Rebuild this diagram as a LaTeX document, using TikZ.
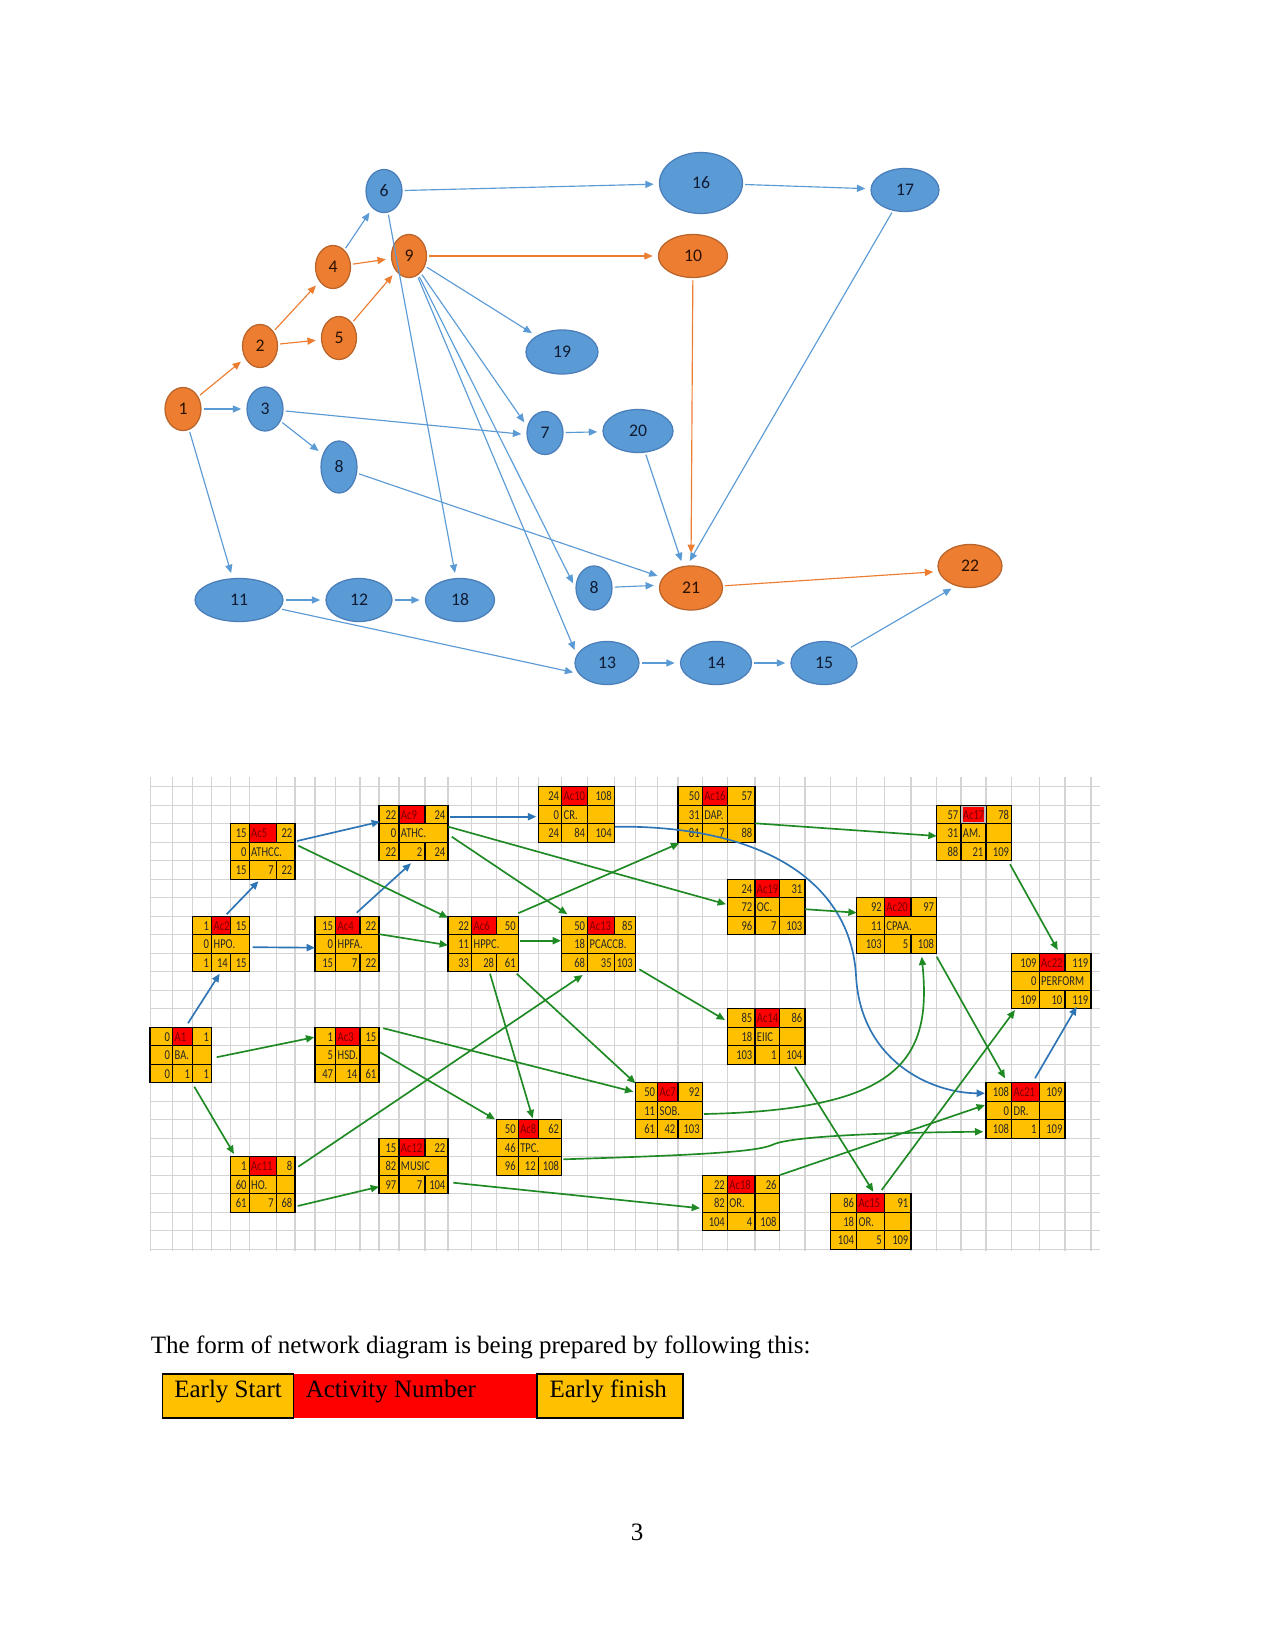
\documentclass[tikz,border=0pt]{standalone}
\usepackage{fontspec}
\setmainfont{Liberation Serif}
\newfontfamily\calib{Carlito}
\newfontfamily\boxfont[FakeStretch=0.78]{Carlito}
\usetikzlibrary{arrows.meta,calc,shapes.geometric}
\definecolor{nblue}{HTML}{5B9BD5}
\definecolor{nbluedk}{HTML}{4A7EBB}
\definecolor{norange}{HTML}{ED7D31}
\definecolor{norangedk}{HTML}{B8642A}
\definecolor{nvtext}{HTML}{0F1B33}
\definecolor{notext}{HTML}{2B1200}
\definecolor{cgold}{HTML}{FFC000}
\definecolor{cred}{HTML}{FF0000}
\definecolor{cdred}{HTML}{780000}
\definecolor{lgreen}{HTML}{1F8A24}
\definecolor{lblue}{HTML}{2E75B6}
\definecolor{gridc}{HTML}{D4D4D4}
\tikzset{
  ev/.style={ellipse, draw, line width=0.6pt, inner sep=0pt, font=\calib\fontsize{8.5}{10}\selectfont},
  evb/.style={ev, fill=nblue, draw=nbluedk, text=nvtext},
  evo/.style={ev, fill=norange, draw=norangedk, text=notext},
  esz/.style 2 args={minimum width=#1*0.48pt, minimum height=#2*0.48pt},
  eb/.style={draw=nblue, line width=0.55pt, -{Triangle[length=4pt,width=3.4pt]}, shorten <=1pt, shorten >=2.5pt},
  eo/.style={eb, draw=norange},
  boxline/.style={draw=black, line width=0.6pt},
  bnum/.style={inner sep=0.6pt, font=\boxfont\fontsize{6.5}{7}\selectfont, text height=4.4pt, text depth=0pt, text=black!85},
  bac/.style={bnum, text=cdred},
  la/.style={line width=0.8pt, -{Triangle[length=4pt,width=3.4pt]}},
  lg/.style={la, draw=lgreen},
  lb/.style={la, draw=lblue},
  gridl/.style={draw=gridc, line width=0.5pt},
  pagetext/.style={inner sep=0pt, font=\fontsize{12}{14}\selectfont}
}
\def\gx{{150,172.7,192.7,211.7,230.5,249.2,276.5,295,315,335.7,360,379,399,425,448,471.7,496.7,518.3,538.3,561.7,587.7,614.3,635.5,657.7,678,702.3,727.5,755,779.2,805,830.7,856.7,884.5,911,936.7,961,986,1011.7,1039.2,1065,1091}}
\newcommand\actrest[4]{%
  \node[bnum,anchor=east] at ({\xb-1},{\ya+46.25}) {#1};
  \node[bnum,anchor=east] at ({\xc-1},{\ya+46.25}) {#2};
  \node[bnum,anchor=east] at ({\xd-1},{\ya+46.25}) {#3};
  \ifnum#4=1 \draw[boxline] (\xc,\yb) -- (\xc,\yc);\fi
}
\newcommand\actbox[9]{%
  \pgfmathtruncatemacro\ia{#2}%
  \pgfmathtruncatemacro\ib{#2+1}%
  \pgfmathtruncatemacro\ic{#2+2}%
  \pgfmathtruncatemacro\id{#2+3}%
  \pgfmathsetmacro\xa{\gx[\ia]}%
  \pgfmathsetmacro\xb{\gx[\ib]}%
  \pgfmathsetmacro\xc{\gx[\ic]}%
  \pgfmathsetmacro\xd{\gx[\id]}%
  \pgfmathsetmacro\ya{786.7+18.5*#3}%
  \pgfmathsetmacro\yb{\ya+18.5}%
  \pgfmathsetmacro\yc{\ya+37}%
  \pgfmathsetmacro\yd{\ya+55.5}%
  \fill[cgold] (\xa,\ya) rectangle (\xd,\yd);
  \fill[cred] (\xb,\ya) rectangle (\xc,\yb);
  \draw[boxline] (\xa,\yb) -- (\xd,\yb) (\xa,\yc) -- (\xd,\yc) (\xb,\ya) -- (\xb,\yd) (\xc,\ya) -- (\xc,\yb) (\xc,\yc) -- (\xc,\yd);
  \draw[boxline] (\xa,\ya) rectangle (\xd,\yd);
  \node[bnum,anchor=east] at ({\xb-1},{\ya+9.25}) {#4};
  \node[bac,anchor=west] at ({\xb+0.3},{\ya+9.25}) {#5};
  \node[bnum,anchor=east] at ({\xd-1},{\ya+9.25}) {#6};
  \node[bnum,anchor=east] at ({\xb-1},{\ya+27.75}) {#7};
  \node[bnum,anchor=west] at ({\xb+0.3},{\ya+27.75}) {#8};
  \actrest#9
  \pgfmathsetmacro\bw{(\xd-\xa)*0.48}%
  \node[inner sep=0pt,outer sep=0pt,minimum width=\bw pt,minimum height=26.64pt,anchor=north west] (#1) at (\xa,\ya) {};
}
\begin{document}
\begin{tikzpicture}[x=0.48pt,y=-0.48pt]
\useasboundingbox (0,0) rectangle (1275,1651);
\fill[white] (0,0) rectangle (1275,1651);

% ---------- top network ----------
\node[evo, esz={36}{43}] (n1) at (183,409) {1};
\node[evo, esz={35}{43}] (n2) at (260,346) {2};
\node[evb, esz={36}{44}] (n3) at (265,409) {3};
\node[evo, esz={35}{43}] (n4) at (333,267) {4};
\node[evo, esz={35}{43}] (n5) at (339,338) {5};
\node[evb, esz={36}{43}] (n6) at (384,191) {6};
\node[evo, esz={35}{43}] (n9) at (409,256) {9};
\node[evb, esz={36}{43}] (n7) at (545,433) {7};
\node[evb, esz={72}{44}] (n19) at (562,352) {19};
\node[evb, esz={70}{43}] (n20) at (638,431) {20};
\node[evb, esz={83}{61}] (n16) at (701,183) {16};
\node[evb, esz={68}{43}] (n17) at (905,190) {17};
\node[evo, esz={69}{43}] (n10) at (693,256) {10};
\node[evb, esz={36}{52}] (n8a) at (339,467) {8};
\node[evb, esz={88}{43}] (n11) at (239,600) {11};
\node[evb, esz={66}{43}] (n12) at (359,600) {12};
\node[evb, esz={69}{43}] (n18) at (460,600) {18};
\node[evb, esz={36}{44}] (n8b) at (594,588) {8};
\node[evb, esz={64}{43}] (n13) at (607,663) {13};
\node[evo, esz={63}{44}] (n21) at (691,588) {21};
\node[evo, esz={64}{43}] (n22) at (970,566) {22};
\node[evb, esz={71}{43}] (n14) at (716,663) {14};
\node[evb, esz={66}{43}] (n15) at (824,663) {15};

\draw[eo] (n1) -- (n2);
\draw[eo] (n2) -- (n4);
\draw[eo] (n2) -- (n5);
\draw[eo] (n4) -- (n9);
\draw[eo] (n5) -- (n9);
\draw[eo] (n9) -- (n10);
\draw[eo, shorten >=6pt] (n10) -- (n21.north);
\draw[eo] (n21) -- (n22.190);

\draw[eb] (n1) -- (n3);
\draw[eb] (n1) -- (n11);
\draw[eb] (n3) -- (n7.185);
\draw[eb] (n3) -- (n8a);
\draw[eb] (n4) -- (n6);
\draw[eb] (n6) -- (n16);
\draw[eb] (n6) -- (n18);
\draw[eb] (n16) -- (n17);
\draw[eb] (n17) -- (n21.100);
\draw[eb] (n9) -- (n19);
\draw[eb] (n9) -- (n7.160);
\draw[eb] (n9) -- (n8b.west);
\draw[eb] (n9) -- (n13.165);
\draw[eb] (n7) -- (n20);
\draw[eb] (n20) -- (n21.110);
\draw[eb] (n8a) -- (n21.160);
\draw[eb] (n8b) -- (n21.175);
\draw[eb] (n11) -- (n12);
\draw[eb] (n12) -- (n18);
\draw[eb] (n11) -- (n13.200);
\draw[eb] (n13) -- (n14);
\draw[eb] (n14) -- (n15);
\draw[eb] (n15) -- (n22.235);

% ---------- grid ----------
\begin{scope}
\clip (150,777) rectangle (1100,1251);
\foreach \k in {-1,...,25} \draw[gridl] (150,{786.7+18.5*\k}) -- (1100,{786.7+18.5*\k});
\foreach \xx in {150,172.7,192.7,211.7,230.5,249.2,276.5,295,315,335.7,360,379,399,425,448,471.7,496.7,518.3,538.3,561.7,587.7,614.3,635.5,657.7,678,702.3,727.5,755,779.2,805,830.7,856.7,884.5,911,936.7,961,986,1011.7,1039.2,1065,1091}
  \draw[gridl] (\xx,777) -- (\xx,1251);
\end{scope}

% ---------- activity boxes ----------
\actbox{a1}{0}{13}{0}{A1}{1}{0}{BA.}{{0}{1}{1}{1}}
\actbox{ac2}{2}{7}{1}{Ac2}{15}{0}{HPO.}{{1}{14}{15}{0}}
\actbox{ac3}{8}{13}{1}{Ac3}{15}{5}{HSD.}{{47}{14}{61}{1}}
\actbox{ac4}{8}{7}{15}{Ac4}{22}{0}{HPFA.}{{15}{7}{22}{0}}
\actbox{ac5}{4}{2}{15}{Ac5}{22}{0}{ATHCC.}{{15}{7}{22}{0}}
\actbox{ac6}{14}{7}{22}{Ac6}{50}{11}{HPPC.}{{33}{28}{61}{0}}
\actbox{ac7}{22}{16}{50}{Ac7}{92}{11}{SOB.}{{61}{42}{103}{0}}
\actbox{ac8}{16}{18}{50}{Ac8}{62}{46}{TPC.}{{96}{12}{108}{0}}
\actbox{ac9}{11}{1}{22}{Ac9}{24}{0}{ATHC.}{{22}{2}{24}{0}}
\actbox{ac10}{18}{0}{24}{Ac10}{108}{0}{CR.}{{24}{84}{104}{1}}
\actbox{ac11}{4}{20}{1}{Ac11}{8}{60}{HO.}{{61}{7}{68}{1}}
\actbox{ac12}{11}{19}{15}{Ac12}{22}{82}{MUSIC}{{97}{7}{104}{0}}
\actbox{ac13}{19}{7}{50}{Ac13}{85}{18}{PCACCB.}{{68}{35}{103}{0}}
\actbox{ac14}{26}{12}{85}{Ac14}{86}{18}{EIIC}{{103}{1}{104}{1}}
\actbox{ac15}{30}{22}{86}{Ac15}{91}{18}{OR.}{{104}{5}{109}{1}}
\actbox{ac16}{24}{0}{50}{Ac16}{57}{31}{DAP.}{{81}{7}{88}{1}}
\actbox{ac17}{34}{1}{57}{Ac17}{78}{31}{AM.}{{88}{21}{109}{1}}
\actbox{ac18}{25}{21}{22}{Ac18}{26}{82}{OR.}{{104}{4}{108}{1}}
\actbox{ac19}{26}{5}{24}{Ac19}{31}{72}{OC.}{{96}{7}{103}{1}}
\actbox{ac20}{31}{6}{92}{Ac20}{97}{11}{CPAA.}{{103}{5}{108}{0}}
\actbox{ac21}{36}{16}{108}{Ac21}{109}{0}{DR.}{{108}{1}{109}{1}}
\actbox{ac22}{37}{9}{109}{Ac22}{119}{0}{PERFORM}{{109}{10}{119}{0}}
\draw[black!25, line width=0.7pt] ($(ac17.north west)+(25.2,1.2)$) rectangle ($(ac17.north west)+(48.4,17.3)$);

% ---------- activity connectors ----------
\draw[lb] ($(a1.north west)+(38,-4)$) -- ($(ac2.south west)+(27,2)$);
\draw[lb] ($(ac2.north west)+(34,-2)$) -- ($(ac5.south west)+(28,2)$);
\draw[lb] ($(ac2.north east)+(3.5,31)$) -- ($(ac4.north west)+(0,31.5)$);
\draw[lb] ($(ac4.north west)+(41.7,-3.5)$) -- ($(ac9.south west)+(32,2.6)$);
\draw[lb] ($(ac5.north east)+(2,17.3)$) -- ($(ac9.north west)+(1,16.5)$);
\draw[lb] ($(ac9.north east)+(2,11.5)$) -- ($(ac10.north west)+(-2,30)$);
\draw[lb] ($(ac10.north east)+(0.7,40)$) .. controls (760,825) and (850,880) .. (856,975) .. controls (860,1060) and (930,1093) .. ($(ac21.north west)+(-1,10.6)$);
\draw[lb] ($(ac21.north west)+(49,-4.4)$) -- ($(ac22.south west)+(65,-2)$);

\draw[lg] ($(ac5.north east)+(3.3,22)$) -- ($(ac6.north west)+(0,1.5)$);
\draw[lg] ($(ac4.north east)+(0.3,18)$) -- ($(ac6.north west)+(0,29)$);
\draw[lg] ($(ac9.north east)+(0.3,21.5)$) -- ($(ac19.north west)+(-1.5,25)$);
\draw[lg] ($(ac9.north east)+(3.7,31.5)$) -- ($(ac13.north west)+(5.6,-2)$);
\draw[lg] ($(ac6.north east)+(0,-3)$) -- ($(ac16.south west)+(1.3,1)$);
\draw[lg] ($(ac6.north east)+(1.7,24.5)$) -- ($(ac13.north west)+(-0.7,24.5)$);
\draw[lg] ($(ac6.south west)+(42,2)$) -- ($(ac8.north west)+(36,-1.4)$);
\draw[lg] ($(ac6.south east)+(-1.6,2)$) -- ($(ac7.north west)+(0,0.6)$);
\draw[lg] ($(ac11.north east)+(3.3,10)$) -- ($(ac13.south west)+(21,3.3)$);
\draw[lg] ($(ac13.south east)+(3.8,-2.4)$) -- ($(ac14.north west)+(-2.5,11.3)$);
\draw[lg] ($(ac16.north east)+(0,36.6)$) -- ($(ac17.north west)+(0,30.8)$);
\draw[lg] ($(ac19.north east)+(0,30)$) -- ($(ac20.north west)+(0,15)$);
\draw[lg] ($(ac17.south east)+(-1.7,3.6)$) -- ($(ac22.north west)+(46,-3.2)$);
\draw[lg] ($(ac7.north east)+(1.7,31.3)$) .. controls (900,1110) and (932,1060) .. ($(ac20.south west)+(65,3.5)$);
\draw[lg] ($(ac20.south east)+(0,3.5)$) -- ($(ac21.north west)+(19,-4.4)$);
\draw[lg] ($(a1.north east)+(5,30)$) -- ($(ac3.north west)+(-0.7,10)$);
\draw[lg] ($(a1.south west)+(44.3,4)$) -- ($(ac11.north west)+(3.5,-2.7)$);
\draw[lg] ($(ac3.north east)+(4.3,1)$) -- ($(ac7.north west)+(-2.2,9)$);
\draw[lg] ($(ac3.north east)+(1,25)$) -- ($(ac8.north west)+(-1.7,-0.4)$);
\draw[lg] ($(ac11.north east)+(2.7,49.3)$) -- ($(ac12.north west)+(0,48.5)$);
\draw[lg] ($(ac12.north east)+(5.3,44.5)$) -- ($(ac18.north west)+(-2.3,33)$);
\draw[lg] ($(ac8.north east)+(1.6,39.6)$) .. controls (700,1155) and (755,1152) .. (772,1145) .. controls (785,1138) and (850,1133) .. ($(ac21.north west)+(-2.7,49)$);
\draw[lg] ($(ac14.south west)+(67.5,2.5)$) -- ($(ac15.north west)+(42.6,-2)$);
\draw[lg] ($(ac15.north west)+(51,-3.7)$) -- ($(ac22.south west)+(3.3,1.3)$);
\draw[lg] ($(ac18.north east)+(0.8,-0.2)$) -- ($(ac21.north west)+(-1,22.3)$);

% ---------- text and legend ----------
\node[pagetext, anchor=base west] (cap) at (150.5,1353) {The form of network diagram is being prepared by following this:};
\fill[cred] (293.8,1374) rectangle (536.9,1418);
\fill[cgold] (162.3,1374) rectangle (293.8,1418);
\fill[cgold] (536.9,1374) rectangle (683.1,1418);
\draw[black, line width=0.6pt] (162.3,1374) rectangle (293.8,1418);
\draw[black, line width=0.6pt] (536.9,1374) rectangle (683.1,1418);
\node[pagetext, anchor=base west] (es) at (173.9,1397) {Early Start};
\node[pagetext, anchor=base west] (an) at (305.4,1397) {Activity Number};
\node[pagetext, anchor=base west] (ef) at (549.2,1397) {Early finish};
\node[pagetext, anchor=base] (pg) at (637,1540) {3};
\end{tikzpicture}
\end{document}
